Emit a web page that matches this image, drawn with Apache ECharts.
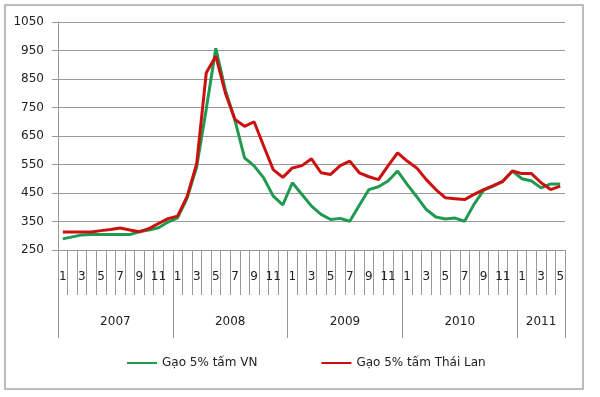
<!DOCTYPE html>
<html>
<head>
<meta charset="utf-8">
<script src="https://cdn.jsdelivr.net/npm/echarts@6/dist/echarts.min.js"></script>
<style>
  html, body { margin: 0; padding: 0; background: #fff; }
  #main { width: 600px; height: 397px; }
</style>
</head>
<body>
<div id="main"></div>
<script>
// thang (chi hien so le tren truc)
var months = ['1','2','3','4','5','6','7','8','9','10','11','12',
  '1','2','3','4','5','6','7','8','9','10','11','12',
  '1','2','3','4','5','6','7','8','9','10','11','12',
  '1','2','3','4','5','6','7','8','9','10','11','12',
  '1','2','3','4','5'];
var years = ['2007', '2008', '2009', '2010', '2011'];
var monthsPerYear = [12, 12, 12, 12, 5];
var yAxisTicks = [250, 350, 450, 550, 650, 750, 850, 950, 1050];

var seriesNames = ['Gạo 5% tấm VN', 'Gạo 5% tấm Thái Lan'];
var vn = [289, 296, 303, 304, 304, 304, 304, 304, 314, 320, 328, 348,
  363, 432, 542, 745, 958, 810, 705, 573, 545, 503, 439, 408,
  486, 445, 404, 375, 357, 361, 351, 407, 462, 472, 492, 527,
  480, 437, 392, 366, 359, 362, 351, 411, 460, 474, 491, 527,
  500, 492, 468, 482, 482];
var thai = [313, 313, 313, 313, 318, 322, 327, 320, 314, 325, 343, 360,
  369, 438, 553, 872, 930, 800, 708, 684, 700, 615, 532, 505,
  538, 546, 570, 521, 515, 546, 562, 521, 507, 497, 545, 591,
  562, 538, 497, 462, 433, 430, 427, 445, 462, 476, 491, 527,
  518, 518, 486, 462, 474];

// nam cho tung thang + vi tri bat dau / giua moi nam
var yearCats = [];
var yearStart = {};
var yearMid = {};
for (var y = 0; y < years.length; y++) {
  yearStart[yearCats.length] = true;
  // nam du 12 thang: nhan dat o thang 7, lui nua o cho vao giua
  yearMid[yearCats.length + Math.floor(monthsPerYear[y] / 2)] = (monthsPerYear[y] % 2 === 0) ? 'even' : 'odd';
  for (var m = 0; m < monthsPerYear[y]; m++) yearCats.push(years[y]);
}

var font = 'DejaVu Sans';
var chart = echarts.init(document.getElementById('main'));
var option = {
  animation: false,
  textStyle: { fontFamily: font },
  graphic: [{
    type: 'rect',
    shape: { x: 5, y: 5, width: 578, height: 384 },
    style: { fill: 'none', stroke: '#a6a6a6', lineWidth: 1.5 },
    silent: true
  }],
  grid: { left: 58, right: 35, top: 22, bottom: 147, containLabel: false },
  legend: {
    left: 122,
    top: 352,
    itemWidth: 30,
    itemHeight: 2,
    itemGap: 64,
    icon: 'rect',
    textStyle: { fontSize: 12, color: '#222', fontFamily: font },
    data: seriesNames
  },
  xAxis: [{
    type: 'category',
    data: months,
    boundaryGap: true,
    axisLine: { show: true, lineStyle: { color: '#999', width: 1 } },
    axisTick: { show: true, interval: 0, length: 45, lineStyle: { color: '#999' } },
    axisLabel: { interval: 1, margin: 21, fontSize: 12, color: '#222', fontFamily: font }
  }, {
    type: 'category',
    data: yearCats,
    position: 'bottom',
    boundaryGap: true,
    axisLine: { show: false },
    axisTick: {
      show: true,
      length: 88,
      lineStyle: { color: '#999' },
      interval: function (index) { return !!yearStart[index]; }
    },
    axisLabel: {
      margin: 66,
      fontSize: 12,
      color: '#222',
      fontFamily: font,
      interval: function (index) { return !!yearMid[index]; },
      formatter: function (value, index) {
        return yearMid[index] === 'even' ? '{e|' + value + '}' : value;
      },
      rich: { e: { fontSize: 12, color: '#222', fontFamily: font, padding: [0, 9.6, 0, 0] } }
    }
  }],
  yAxis: {
    type: 'value',
    min: yAxisTicks[0],
    max: yAxisTicks[yAxisTicks.length - 1],
    interval: 100,
    axisLine: { show: true, lineStyle: { color: '#999', width: 1 } },
    axisTick: { show: true, length: 6, lineStyle: { color: '#999' } },
    axisLabel: {
      margin: 14, fontSize: 12, color: '#222', fontFamily: font,
      formatter: function (v) { return String(v); }
    },
    splitLine: { lineStyle: { color: '#9a9a9a', width: 1 } }
  },
  series: [{
    name: seriesNames[0],
    type: 'line',
    data: vn,
    symbol: 'none',
    color: '#1f9a50',
    lineStyle: { width: 3, color: '#1f9a50' }
  }, {
    name: seriesNames[1],
    type: 'line',
    data: thai,
    symbol: 'none',
    color: '#cc1010',
    lineStyle: { width: 3, color: '#cc1010' }
  }]
};
chart.setOption(option);
</script>
</body>
</html>
